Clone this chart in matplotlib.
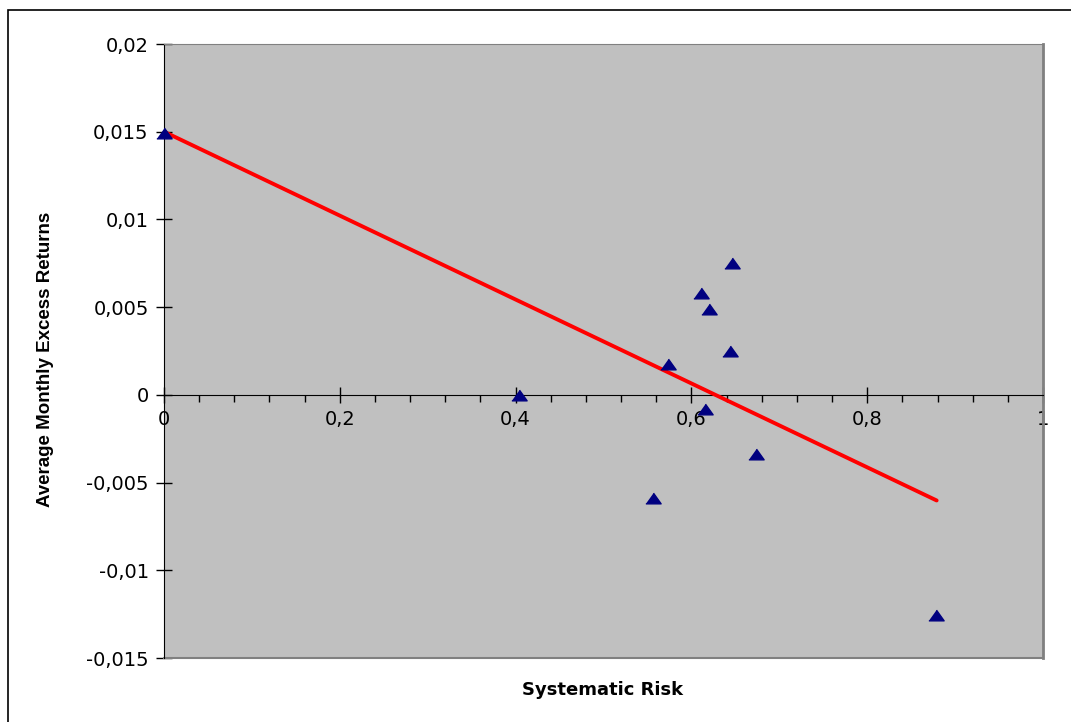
import matplotlib.pyplot as plt
from matplotlib.patches import Rectangle
from matplotlib.ticker import MultipleLocator, FuncFormatter

# systematic risk (beta) vs average monthly excess return
beta = [0.0, 0.4043, 0.5558, 0.5733, 0.6105, 0.6150, 0.6200, 0.6440, 0.6466, 0.6735, 0.8780]
excess = [0.0149, 0.0, -0.00589, 0.00175, 0.00579, -0.00078, 0.0049, 0.00251, 0.00754, -0.00339, -0.01253]

# fitted line end points
line_x = [0.0, 0.879]
line_y = [0.0150, -0.00602]

plt.rcParams["font.family"] = ["DejaVu Sans"]

fig = plt.figure(figsize=(10.71, 7.22), dpi=100)
ax = fig.add_axes([164/1071, 1-658/722, (1043-164)/1071, (658-44)/722])
ax.set_facecolor('#C0C0C0')

# outer chart frame
fig.patches.append(Rectangle((8/1071, -0.1), 1.2, 1-10/722+0.1, transform=fig.transFigure,
                             fill=False, edgecolor='black', linewidth=1.2))

tri = [(-1, -0.7), (1, -0.7), (0, 0.7)]
ax.plot(line_x, line_y, color='#FF0000', linewidth=2.8, solid_capstyle='round', zorder=3)
ax.plot(beta, excess, linestyle='none', marker=tri, markersize=11,
        color='#000080', zorder=4, clip_on=False)

ax.set_xlim(0, 1)
ax.set_ylim(-0.015, 0.02)

ax.spines['bottom'].set_position(('data', 0))
ax.spines['bottom'].set_color('black')
ax.spines['left'].set_color('black')
ax.spines['top'].set_color('#808080')
ax.spines['right'].set_color('#808080')
ax.spines['right'].set_linewidth(2)
ax.plot([0, 1], [0, 0], transform=ax.transAxes, color='#808080', linewidth=1.5, clip_on=False)

ax.xaxis.set_major_locator(MultipleLocator(0.2))
ax.xaxis.set_minor_locator(MultipleLocator(0.04))
ax.yaxis.set_major_locator(MultipleLocator(0.005))

def comma(v, pos):
    if abs(v) < 1e-12:
        return '0'
    return f"{v:g}".replace('.', ',')

ax.xaxis.set_major_formatter(FuncFormatter(comma))
ax.yaxis.set_major_formatter(FuncFormatter(comma))

ax.tick_params(axis='x', which='major', direction='inout', length=12, width=1, labelsize=14, pad=5)
ax.tick_params(axis='x', which='minor', direction='out', length=5, width=1)
ax.tick_params(axis='y', which='major', direction='inout', length=12, width=1, labelsize=14, pad=5)

fig.text(603/1071, 1-690/722, 'Systematic Risk', ha='center', va='center',
         fontsize=13, fontweight='bold')
fig.text(45/1071, 1-359/722, 'Average Monthly Excess Returns', ha='center', va='center',
         rotation=90, fontsize=13.5, fontweight='bold', family='Liberation Sans')

fig.savefig('out.png', dpi=100)
